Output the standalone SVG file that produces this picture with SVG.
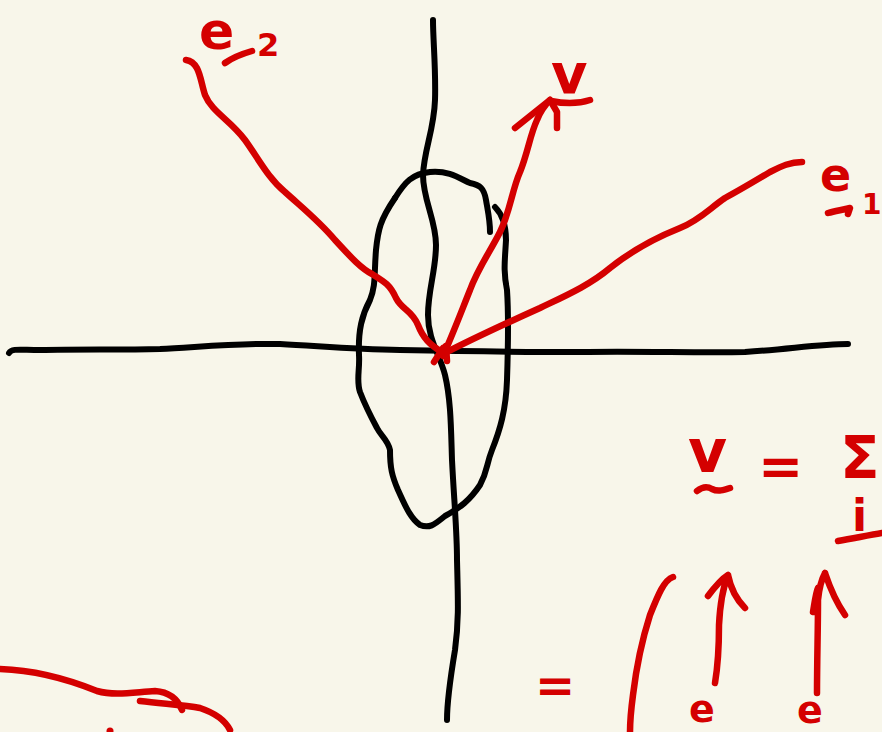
<svg xmlns="http://www.w3.org/2000/svg" width="882" height="732" viewBox="0 0 882 732">
<style>
.k{fill:none;stroke:#000;stroke-width:6;stroke-linecap:round;stroke-linejoin:round}
.r{fill:none;stroke:#D40000;stroke-width:6.5;stroke-linecap:round;stroke-linejoin:round}
.t{fill:#D40000;font-family:"DejaVu Sans","Liberation Sans",sans-serif;font-weight:bold}
</style>
<rect width="882" height="732" fill="#F8F6EA"/>
<g id="axes">
<path class="k" d="M9,353 C12,348 20,350 40,350 C80,349 120,350 160,349 C200,347 240,343 280,344 C320,346 350,349 400,350 C450,351 520,352 580,352 C640,351 700,353 745,352 C790,349 820,344 848,344"/>
<path class="k" d="M433,20 C433,40 436,70 435,100 C434,130 424,150 423,175 C423,200 436,220 436,245 C436,270 428,290 428,315 C428,340 440,355 445,375 C451,400 451,430 452,460 C454,500 457,530 457,560 C458,600 459,620 455,650 C450,680 447,700 447,720"/>
</g>
<g id="ellipse">
<path class="k" d="M395,198 C405,182 412,174 430,172 C450,170 462,180 470,183 C480,185 484,188 486,200 C488,212 490,220 490,232"/>
<path class="k" d="M495,207 C500,212 506,220 506,240 C505,260 503,270 507,290 C509,320 508,350 507,380 C506,410 500,430 492,450 C486,465 488,470 480,485 C470,500 460,508 445,516 C435,524 430,529 420,525 C410,518 405,505 398,490 C392,476 390,468 390,450 C388,440 381,436 377,428 C370,415 365,405 360,392 C356,380 360,370 359,355 C358,330 362,315 370,300 C376,285 374,275 376,250 C378,230 380,220 395,198"/>
</g>
<g id="vectors">
<path class="r" d="M186,60 C200,62 200,80 205,95 C212,112 230,120 245,140 C258,158 268,178 285,192 C305,210 320,222 335,240 C348,254 360,268 372,274 C385,282 390,285 396,298 C402,310 412,310 418,325 C423,338 430,345 442,352"/>
<path class="r" d="M443,356 C452,336 460,315 470,290 C478,268 490,252 500,232 C510,212 512,190 520,172 C528,152 530,135 537,120 C541,110 546,104 550,100"/>
<path class="r" d="M515,128 L550,100 L557,112 L557,128"/>
<path class="r" d="M551,101 C565,104 578,104 590,100"/>
<path class="r" d="M443,354 C470,340 500,326 540,308 C565,296 590,285 610,268 C630,252 650,240 680,228 C700,220 710,208 725,198 C740,190 760,178 770,172 C782,166 790,162 802,162"/>
<path class="r" d="M434,362 L443,348 M447,361 L446,346"/>
</g>
<g id="labels">
<text class="t" x="199" y="49" font-size="52">e</text>
<path class="r" d="M225,63 C232,58 238,55 252,51"/>
<text class="t" x="257" y="56" font-size="32">2</text>
<text class="t" x="551" y="93" font-size="56">v</text>
<text class="t" x="820" y="191" font-size="46">e</text>
<path class="r" d="M828,213 C835,211 842,210 850,208 L848,214"/>
<text class="t" x="862" y="214" font-size="28">1</text>
<text class="t" x="688" y="472" font-size="60">v</text>
<path class="r" d="M697,491 C702,487 707,486 712,489 C718,492 724,490 730,488"/>
<text class="t" x="758" y="485" font-size="54">=</text>
<text class="t" x="840" y="478" font-size="58">Σ</text>
<text class="t" x="852" y="531" font-size="44">i</text>
<path class="r" d="M838,541 C855,538 870,535 882,533"/>
<text class="t" x="535" y="702" font-size="48">=</text>
<path class="r" d="M673,577 C664,580 658,595 650,615 C642,640 636,670 633,695 C631,710 630,725 630,732"/>
<path class="r" d="M715,683 C718,665 719,645 719,625 C720,605 722,590 728,575 M708,596 C714,588 720,580 728,575 C731,590 737,600 745,608"/>
<path class="r" d="M817,693 C817,660 818,630 818,600 C819,590 820,582 825,573 M813,612 C815,600 816,592 818,588 M825,573 C830,588 836,602 845,615"/>
<text class="t" x="689" y="722" font-size="38">e</text>
<text class="t" x="797" y="723" font-size="38">e</text>
</g>
<g id="bottom-left">
<path class="r" d="M0,669 C30,670 60,676 97,691 C115,696 135,692 155,691 C170,692 178,700 182,710"/>
<path class="r" d="M140,701 C165,704 185,705 200,708 C215,713 225,720 230,730"/>
<circle cx="110" cy="731" r="3.5" fill="#D40000"/>
</g>
</svg>
